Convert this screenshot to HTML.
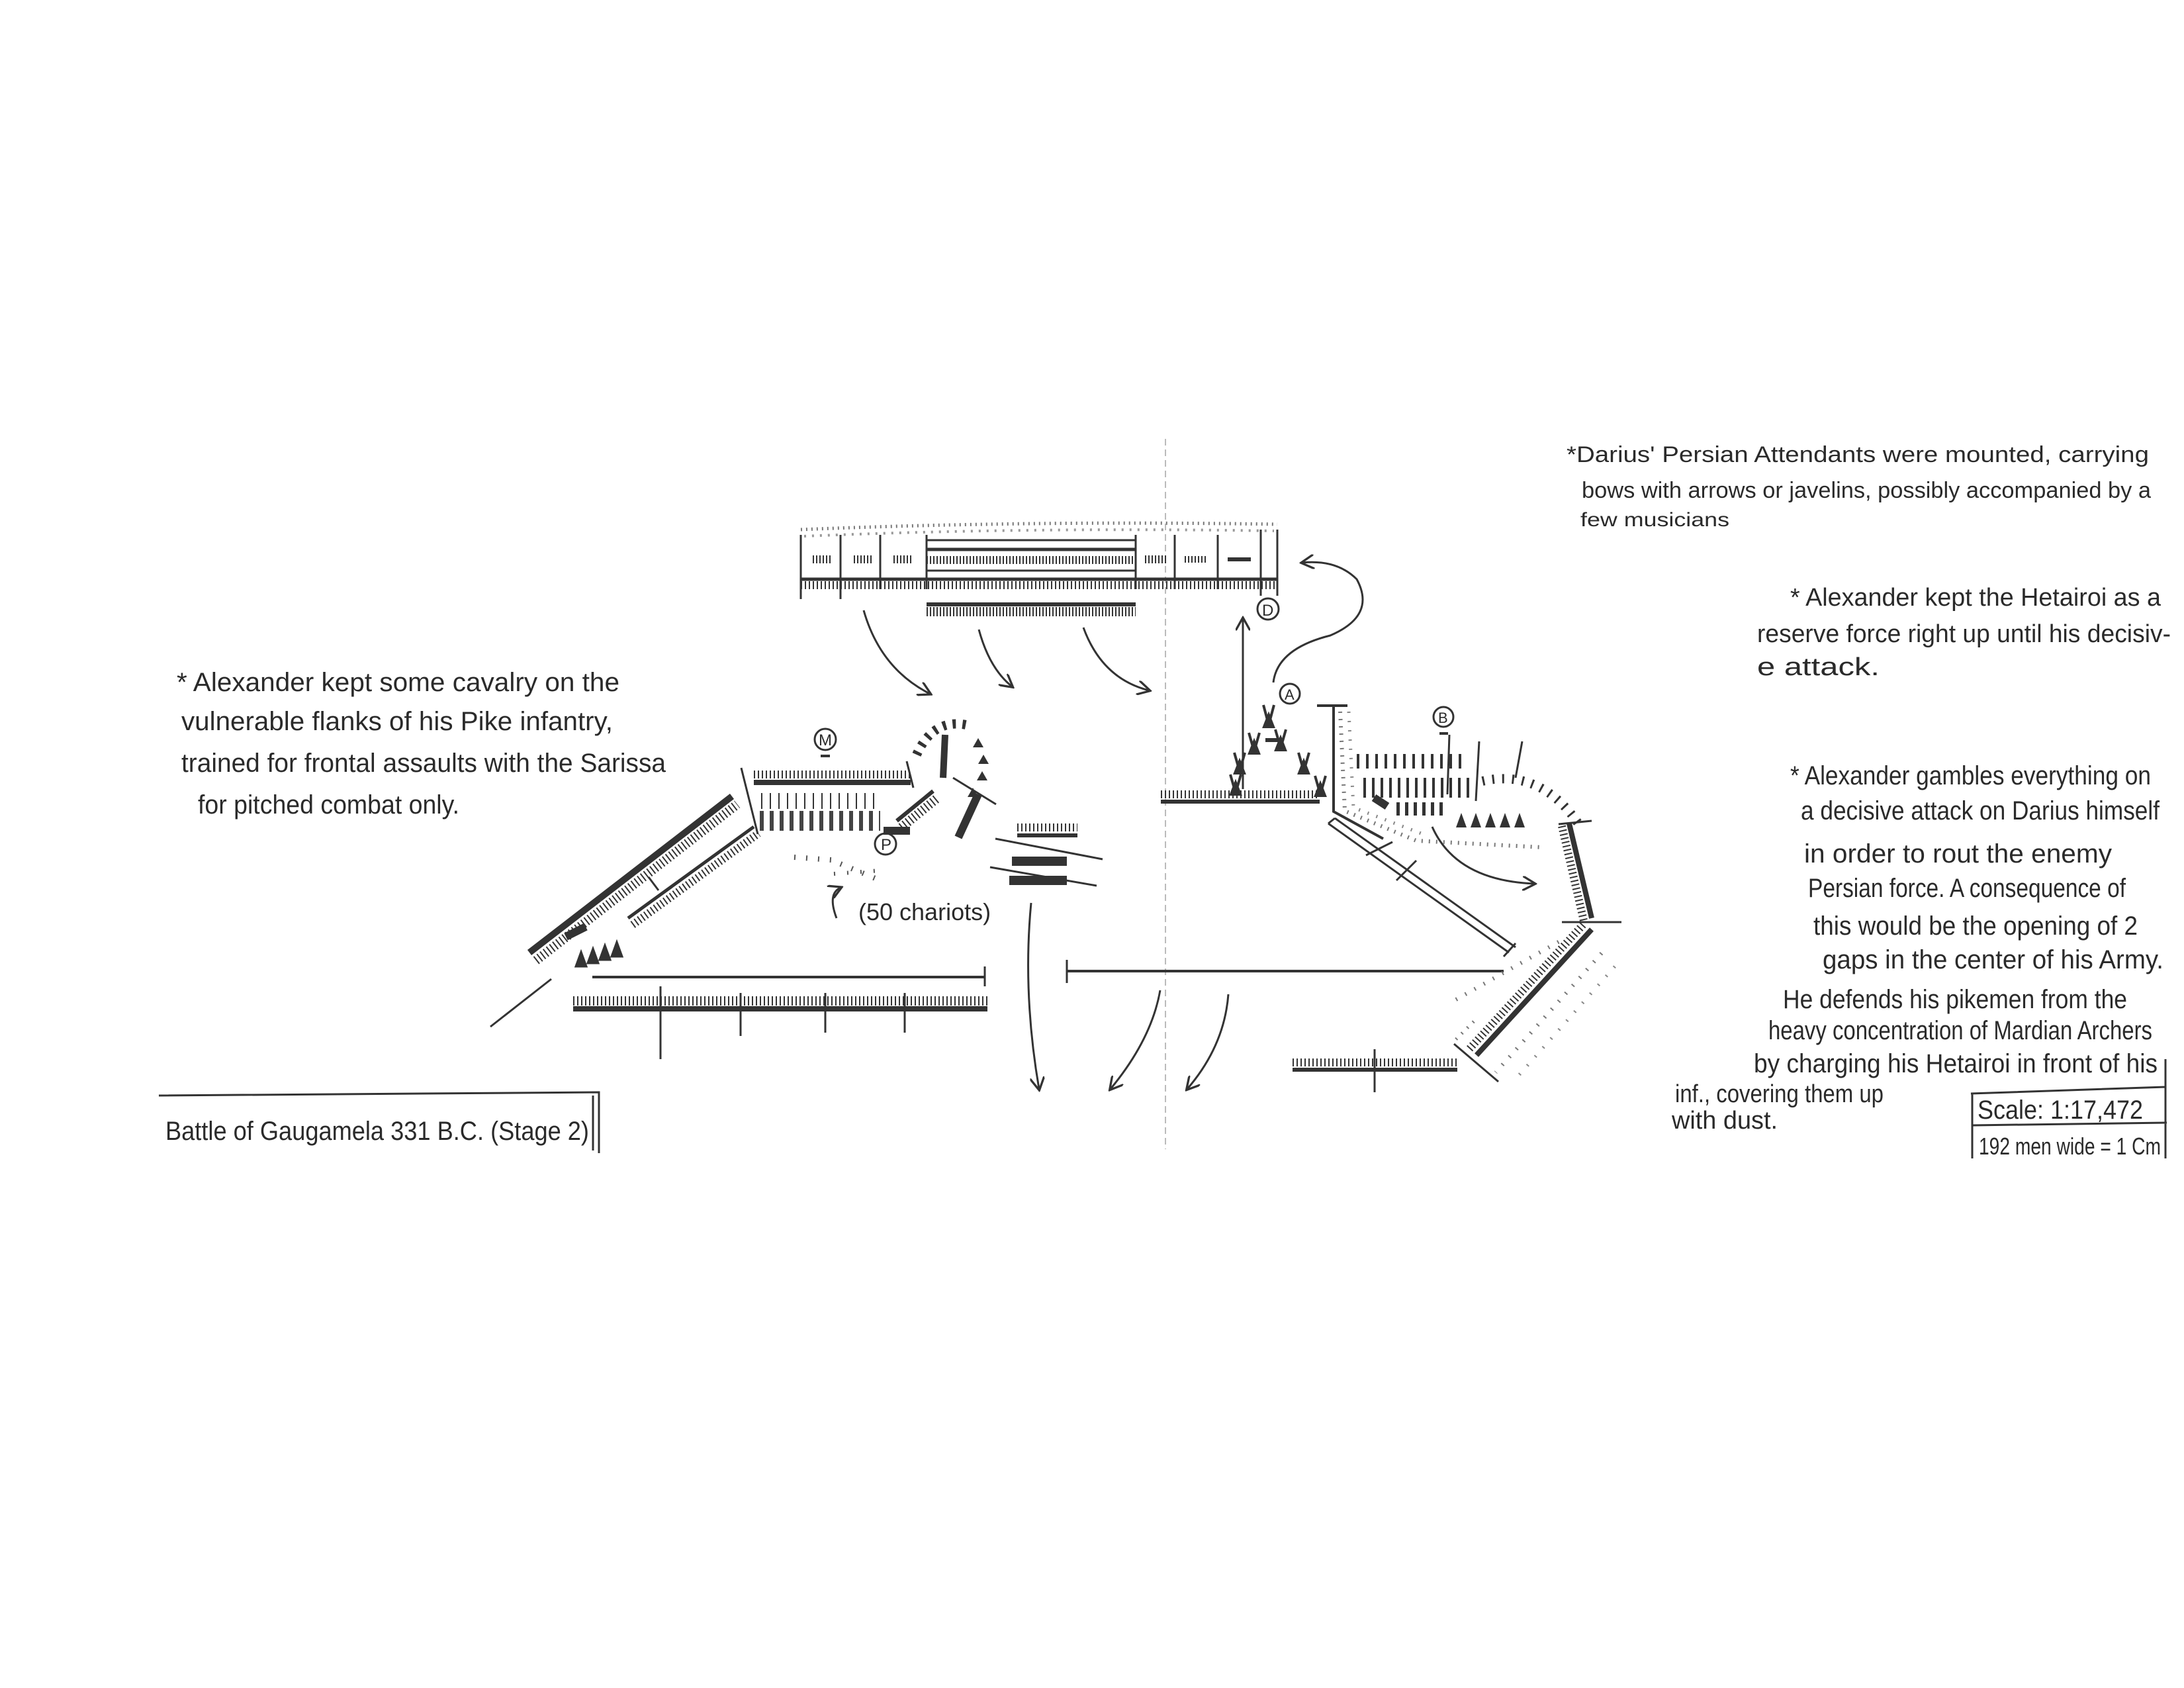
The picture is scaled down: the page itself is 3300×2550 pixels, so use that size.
<!DOCTYPE html>
<html><head><meta charset="utf-8"><style>
html,body{margin:0;padding:0;background:#fff;}
svg{display:block}
text{font-family:"Liberation Sans",sans-serif;fill:#2a2a2a;}
</style></head><body>
<svg width="3300" height="2550" viewBox="0 0 3300 2550" xmlns="http://www.w3.org/2000/svg">
<defs>
<marker id="ah" viewBox="0 0 20 20" refX="16" refY="10" markerWidth="22" markerHeight="22" orient="auto" markerUnits="userSpaceOnUse">
<path d="M0,0 L18,10 L0,20" fill="none" stroke="#333" stroke-width="3"/></marker>
</defs>
<rect width="3300" height="2550" fill="#fff"/>
<g stroke="#333" fill="none" stroke-linecap="butt">
<!-- vertical divider -->
<line x1="1761" y1="663" x2="1761" y2="1736" stroke="#bbb" stroke-width="2" stroke-dasharray="10 6"/>

<!-- top Persian line -->
<path d="M1210,800 Q1550,786 1930,792" stroke="#777" stroke-width="5" stroke-dasharray="2 6"/>
<path d="M1215,810 Q1550,796 1925,802" stroke="#999" stroke-width="4" stroke-dasharray="3 9"/>
<line x1="1210" y1="808" x2="1210" y2="905" stroke-width="3"/>
<line x1="1270" y1="808" x2="1270" y2="905" stroke-width="3"/>
<line x1="1330" y1="808" x2="1330" y2="890" stroke-width="3"/>
<line x1="1400" y1="808" x2="1400" y2="890" stroke-width="3"/>
<line x1="1716" y1="808" x2="1716" y2="890" stroke-width="3"/>
<line x1="1775" y1="808" x2="1775" y2="890" stroke-width="3"/>
<line x1="1840" y1="808" x2="1840" y2="890" stroke-width="3"/>
<line x1="1905" y1="800" x2="1905" y2="900" stroke-width="3"/>
<line x1="1930" y1="800" x2="1930" y2="900" stroke-width="3"/>
<line x1="1210" y1="875" x2="1930" y2="875" stroke-width="5"/>
<line x1="1210" y1="884" x2="1930" y2="884" stroke-width="12" stroke-dasharray="2 4"/>
<rect x="1400" y="816" width="316" height="46" stroke-width="3"/>
<line x1="1400" y1="830" x2="1716" y2="830" stroke-width="5"/>
<line x1="1400" y1="846" x2="1716" y2="846" stroke-width="12" stroke-dasharray="2 3"/>
<line x1="1228" y1="845" x2="1255" y2="845" stroke-width="12" stroke-dasharray="2 3"/>
<line x1="1290" y1="845" x2="1318" y2="845" stroke-width="12" stroke-dasharray="2 3"/>
<line x1="1350" y1="845" x2="1380" y2="845" stroke-width="12" stroke-dasharray="2 3"/>
<line x1="1730" y1="845" x2="1765" y2="845" stroke-width="12" stroke-dasharray="2 3"/>
<line x1="1790" y1="845" x2="1825" y2="845" stroke-width="10" stroke-dasharray="2 3"/>
<line x1="1855" y1="845" x2="1890" y2="845" stroke-width="6"/>
<line x1="1400" y1="913" x2="1716" y2="913" stroke-width="6"/>
<line x1="1400" y1="924" x2="1716" y2="924" stroke-width="14" stroke-dasharray="2 3"/>
<circle cx="1916" cy="920" r="16" stroke-width="3"/><text x="1907" y="930" font-size="24" stroke="none">D</text>

<!-- arrows from top -->
<path d="M1305,922 Q1330,1010 1405,1048" stroke-width="3" marker-end="url(#ah)"/>
<path d="M1479,951 Q1495,1010 1529,1037" stroke-width="3" marker-end="url(#ah)"/>
<path d="M1637,948 Q1665,1025 1736,1043" stroke-width="3" marker-end="url(#ah)"/>

<!-- left wing diagonal -->
<line x1="800" y1="1439" x2="1106" y2="1203" stroke-width="10"/>
<line x1="810" y1="1451" x2="1114" y2="1215" stroke-width="14" stroke-dasharray="2 4"/>
<line x1="949" y1="1387" x2="1139" y2="1249" stroke-width="5"/>
<line x1="956" y1="1397" x2="1146" y2="1259" stroke-width="12" stroke-dasharray="2 4"/>
<line x1="980" y1="1325" x2="995" y2="1345" stroke-width="3"/>
<line x1="855" y1="1415" x2="885" y2="1400" stroke-width="12"/>
<path d="M870,1460 l8,-22 l8,22z M888,1455 l8,-22 l8,22z M906,1450 l8,-22 l8,22z M924,1445 l8,-22 l8,22z" stroke-width="3" fill="#333"/>
<line x1="741" y1="1551" x2="833" y2="1479" stroke-width="3"/>
<!-- bottom left lines -->
<line x1="895" y1="1476" x2="1488" y2="1476" stroke-width="4"/>
<line x1="1488" y1="1460" x2="1488" y2="1490" stroke-width="3"/>
<line x1="866" y1="1524" x2="1492" y2="1524" stroke-width="8"/>
<line x1="866" y1="1512" x2="1492" y2="1512" stroke-width="14" stroke-dasharray="2 4"/>
<line x1="998" y1="1490" x2="998" y2="1600" stroke-width="3"/>
<line x1="1119" y1="1500" x2="1119" y2="1565" stroke-width="3"/>
<line x1="1247" y1="1500" x2="1247" y2="1560" stroke-width="3"/>
<line x1="1367" y1="1500" x2="1367" y2="1560" stroke-width="3"/>

<!-- center phalanx -->
<line x1="1120" y1="1160" x2="1145" y2="1260" stroke-width="3"/>
<line x1="1139" y1="1182" x2="1376" y2="1182" stroke-width="8"/>
<line x1="1139" y1="1170" x2="1376" y2="1170" stroke-width="12" stroke-dasharray="2 4"/>
<line x1="1148" y1="1240" x2="1330" y2="1240" stroke-width="30" stroke-dasharray="6 9" stroke="#444"/>
<line x1="1150" y1="1210" x2="1330" y2="1210" stroke-width="24" stroke-dasharray="2 11"/>
<line x1="1335" y1="1255" x2="1375" y2="1255" stroke-width="12"/>
<circle cx="1247" cy="1117" r="16" stroke-width="3"/><text x="1237" y="1126" font-size="24" stroke="none">M</text>
<line x1="1240" y1="1142" x2="1254" y2="1142" stroke-width="4"/>
<circle cx="1338" cy="1275" r="16" stroke-width="3"/><text x="1331" y="1284" font-size="24" stroke="none">P</text>
<line x1="1355" y1="1240" x2="1410" y2="1195" stroke-width="6"/>
<line x1="1362" y1="1250" x2="1417" y2="1205" stroke-width="14" stroke-dasharray="2 4"/>
<line x1="1425" y1="1175" x2="1428" y2="1110" stroke-width="10"/>
<path d="M1385,1140 Q1410,1085 1460,1095" stroke-width="14" stroke-dasharray="5 10"/>
<path d="M1475,1105 Q1495,1140 1480,1180" stroke-width="0"/>
<path d="M1478,1115 l8,14 l-16,0z M1486,1140 l8,14 l-16,0z M1484,1165 l8,14 l-16,0z M1470,1190 l8,14 l-16,0z" fill="#333" stroke="none"/>
<line x1="1440" y1="1175" x2="1505" y2="1215" stroke-width="3"/>
<line x1="1370" y1="1150" x2="1380" y2="1190" stroke-width="3"/>
<line x1="1448" y1="1265" x2="1478" y2="1200" stroke-width="12"/>
<line x1="1270" y1="1305" x2="1330" y2="1330" stroke="#555" stroke-width="8" stroke-dasharray="2 16"/>
<line x1="1200" y1="1295" x2="1270" y2="1300" stroke="#555" stroke-width="8" stroke-dasharray="2 16"/>
<line x1="1260" y1="1320" x2="1330" y2="1315" stroke="#555" stroke-width="6" stroke-dasharray="2 18"/>
<path d="M1264,1387 Q1250,1350 1270,1341" stroke-width="3" marker-end="url(#ah)"/>
<text x="1297" y="1390" font-size="36" stroke="none">(50 chariots)</text>
<!-- right blocks -->
<line x1="1537" y1="1262" x2="1628" y2="1262" stroke-width="6"/>
<line x1="1537" y1="1250" x2="1628" y2="1250" stroke-width="12" stroke-dasharray="2 4"/>
<line x1="1529" y1="1301" x2="1612" y2="1301" stroke-width="14"/>
<line x1="1525" y1="1330" x2="1612" y2="1330" stroke-width="14"/>
<line x1="1504" y1="1267" x2="1666" y2="1298" stroke-width="3"/>
<line x1="1496" y1="1310" x2="1657" y2="1338" stroke-width="3"/>

<!-- down arrows -->
<path d="M1558,1364 Q1545,1500 1570,1645" stroke-width="3" marker-end="url(#ah)"/>
<path d="M1753,1496 Q1740,1570 1678,1645" stroke-width="3" marker-end="url(#ah)"/>
<path d="M1856,1502 Q1850,1580 1794,1645" stroke-width="3" marker-end="url(#ah)"/>
<!-- horizontal line -->
<line x1="1612" y1="1467" x2="2272" y2="1467" stroke-width="4"/>
<line x1="1612" y1="1450" x2="1612" y2="1485" stroke-width="3"/>

<!-- right side Hetairoi -->
<line x1="1878" y1="1192" x2="1878" y2="935" stroke-width="3" marker-end="url(#ah)"/>
<path d="M1924,1031 Q1930,980 2010,960 Q2080,930 2050,875 Q2020,845 1968,850" stroke-width="3" marker-end="url(#ah)"/>
<circle cx="1949" cy="1048" r="15" stroke-width="3"/><text x="1941" y="1057" font-size="22" stroke="none">A</text>
<g stroke-width="4" fill="#333">
<path d="M1917,1095 l-8,-30 M1917,1095 l8,-30 M1910,1098 h14 l-7,-18z"/>
<path d="M1895,1135 l-8,-28 M1895,1135 l8,-28 M1888,1138 h14 l-7,-18z"/>
<path d="M1935,1130 l-8,-28 M1935,1130 l8,-28 M1928,1133 h14 l-7,-18z"/>
<path d="M1873,1165 l-8,-28 M1873,1165 l8,-28 M1866,1168 h14 l-7,-18z"/>
<path d="M1970,1165 l-8,-28 M1970,1165 l8,-28 M1963,1168 h14 l-7,-18z"/>
<path d="M1867,1198 l-8,-28 M1867,1198 l8,-28 M1860,1200 h14 l-7,-18z"/>
<path d="M1995,1200 l-8,-28 M1995,1200 l8,-28 M1988,1202 h14 l-7,-18z"/>
</g>
<line x1="1912" y1="1118" x2="1935" y2="1118" stroke-width="6"/>
<line x1="1754" y1="1211" x2="1994" y2="1211" stroke-width="6"/>
<line x1="1754" y1="1200" x2="1994" y2="1200" stroke-width="12" stroke-dasharray="2 4"/>
<path d="M1990,1066 L2036,1066 M2015,1066 L2015,1226 L2090,1267" stroke-width="4"/>
<path d="M2025,1075 L2032,1225 L2140,1270 L2330,1280" stroke="#777" stroke-width="6" stroke-dasharray="2 9"/>
<path d="M2038,1075 L2045,1220 L2150,1260" stroke="#888" stroke-width="5" stroke-dasharray="2 12"/>
<circle cx="2181" cy="1083" r="15" stroke-width="3"/><text x="2173" y="1092" font-size="22" stroke="none">B</text>
<line x1="2175" y1="1108" x2="2188" y2="1108" stroke-width="4"/>
<line x1="2050" y1="1150" x2="2210" y2="1150" stroke-width="22" stroke-dasharray="4 10"/>
<line x1="2060" y1="1190" x2="2220" y2="1190" stroke-width="30" stroke-dasharray="4 9"/>
<line x1="2110" y1="1222" x2="2180" y2="1222" stroke-width="20" stroke-dasharray="5 8"/>
<path d="M2200,1250 l8,-22 l8,22z M2222,1250 l8,-22 l8,22z M2244,1250 l8,-22 l8,22z M2266,1250 l8,-22 l8,22z M2288,1250 l8,-22 l8,22z" fill="#333" stroke="none"/>
<line x1="2190" y1="1110" x2="2187" y2="1200" stroke-width="3"/>
<line x1="2235" y1="1120" x2="2230" y2="1210" stroke-width="3"/>
<line x1="2076" y1="1205" x2="2096" y2="1218" stroke-width="12"/>
<path d="M2240,1180 Q2330,1160 2388,1249" stroke-width="14" stroke-dasharray="3 12"/>
<line x1="2300" y1="1120" x2="2290" y2="1175" stroke-width="3"/>
<line x1="2371" y1="1244" x2="2405" y2="1387" stroke-width="8"/>
<line x1="2360" y1="1248" x2="2393" y2="1391" stroke-width="12" stroke-dasharray="2 4"/>
<line x1="2355" y1="1245" x2="2405" y2="1240" stroke-width="3"/>
<line x1="2360" y1="1393" x2="2450" y2="1393" stroke-width="3"/>
<line x1="2405" y1="1404" x2="2231" y2="1594" stroke-width="8"/>
<line x1="2392" y1="1397" x2="2218" y2="1587" stroke-width="12" stroke-dasharray="2 4"/>
<path d="M2200,1510 L2360,1420" stroke="#777" stroke-width="6" stroke-dasharray="2 14"/>
<path d="M2420,1440 L2260,1620" stroke="#777" stroke-width="6" stroke-dasharray="2 14"/>
<path d="M2440,1460 L2290,1630" stroke="#888" stroke-width="5" stroke-dasharray="2 16"/>
<path d="M2200,1570 L2230,1540" stroke="#777" stroke-width="5" stroke-dasharray="2 10"/>
<line x1="2197" y1="1577" x2="2264" y2="1634" stroke-width="3"/>
<line x1="2007" y1="1244" x2="2280" y2="1439" stroke-width="3"/>
<line x1="2017" y1="1236" x2="2290" y2="1431" stroke-width="3"/>
<line x1="2007" y1="1244" x2="2017" y2="1236" stroke-width="3"/>
<line x1="2272" y1="1445" x2="2290" y2="1425" stroke-width="3"/>
<line x1="2064" y1="1292" x2="2104" y2="1272" stroke-width="3"/>
<line x1="2140" y1="1300" x2="2110" y2="1330" stroke-width="3"/>
<path d="M2164,1249 Q2200,1330 2318,1335" stroke-width="3" marker-end="url(#ah)"/>
<line x1="1953" y1="1616" x2="2202" y2="1616" stroke-width="6"/>
<line x1="1953" y1="1605" x2="2202" y2="1605" stroke-width="12" stroke-dasharray="2 4"/>
<line x1="2077" y1="1585" x2="2077" y2="1650" stroke-width="3"/>

<!-- title box -->
<path d="M240,1655 L905,1650 L905,1742" stroke-width="3"/>
<line x1="896" y1="1655" x2="896" y2="1738" stroke-width="3"/>
<!-- scale box -->
<path d="M2978,1652 L3272,1642 M2980,1652 L2980,1750 M2980,1700 L3274,1696 M3272,1600 L3272,1750" stroke-width="3"/>
</g>

<g stroke="none">
<text x="267" y="1044" font-size="40" textLength="669" lengthAdjust="spacingAndGlyphs">* Alexander kept some cavalry on the</text>
<text x="274" y="1103" font-size="40" textLength="652" lengthAdjust="spacingAndGlyphs">vulnerable flanks of his Pike infantry,</text>
<text x="274" y="1166" font-size="40" textLength="732" lengthAdjust="spacingAndGlyphs">trained for frontal assaults with the Sarissa</text>
<text x="299" y="1229" font-size="40" textLength="395" lengthAdjust="spacingAndGlyphs">for pitched combat only.</text>

<text x="250" y="1722" font-size="40" textLength="640" lengthAdjust="spacingAndGlyphs">Battle of Gaugamela 331 B.C. (Stage 2)</text>

<text x="2367" y="698" font-size="34" textLength="880" lengthAdjust="spacingAndGlyphs">*Darius' Persian Attendants were mounted, carrying</text>
<text x="2390" y="752" font-size="34" textLength="860" lengthAdjust="spacingAndGlyphs">bows with arrows or javelins, possibly accompanied by a</text>
<text x="2388" y="795" font-size="30" textLength="225" lengthAdjust="spacingAndGlyphs">few musicians</text>

<text x="2705" y="915" font-size="38" textLength="560" lengthAdjust="spacingAndGlyphs">* Alexander kept the Hetairoi as a</text>
<text x="2655" y="970" font-size="38" textLength="625" lengthAdjust="spacingAndGlyphs">reserve force right up until his decisiv-</text>
<text x="2655" y="1020" font-size="38" textLength="185" lengthAdjust="spacingAndGlyphs">e attack.</text>

<text x="2705" y="1185" font-size="40" textLength="545" lengthAdjust="spacingAndGlyphs">* Alexander gambles everything on</text>
<text x="2721" y="1238" font-size="40" textLength="542" lengthAdjust="spacingAndGlyphs">a decisive attack on Darius himself</text>
<text x="2726" y="1303" font-size="40" textLength="465" lengthAdjust="spacingAndGlyphs">in order to rout the enemy</text>
<text x="2732" y="1355" font-size="40" textLength="480" lengthAdjust="spacingAndGlyphs">Persian force. A consequence of</text>
<text x="2740" y="1412" font-size="40" textLength="490" lengthAdjust="spacingAndGlyphs">this would be the opening of 2</text>
<text x="2754" y="1463" font-size="40" textLength="515" lengthAdjust="spacingAndGlyphs">gaps in the center of his Army.</text>
<text x="2694" y="1523" font-size="40" textLength="520" lengthAdjust="spacingAndGlyphs">He defends his pikemen from the</text>
<text x="2672" y="1570" font-size="40" textLength="580" lengthAdjust="spacingAndGlyphs">heavy concentration of Mardian Archers</text>
<text x="2650" y="1620" font-size="40" textLength="610" lengthAdjust="spacingAndGlyphs">by charging his Hetairoi in front of his</text>
<text x="2531" y="1665" font-size="38" textLength="315" lengthAdjust="spacingAndGlyphs">inf., covering them up</text>
<text x="2526" y="1705" font-size="38" textLength="160" lengthAdjust="spacingAndGlyphs">with dust.</text>

<text x="2988" y="1690" font-size="40" textLength="250" lengthAdjust="spacingAndGlyphs">Scale: 1:17,472</text>
<text x="2990" y="1744" font-size="36" textLength="275" lengthAdjust="spacingAndGlyphs">192 men wide = 1 Cm</text>
</g>
</svg>
</body></html>
